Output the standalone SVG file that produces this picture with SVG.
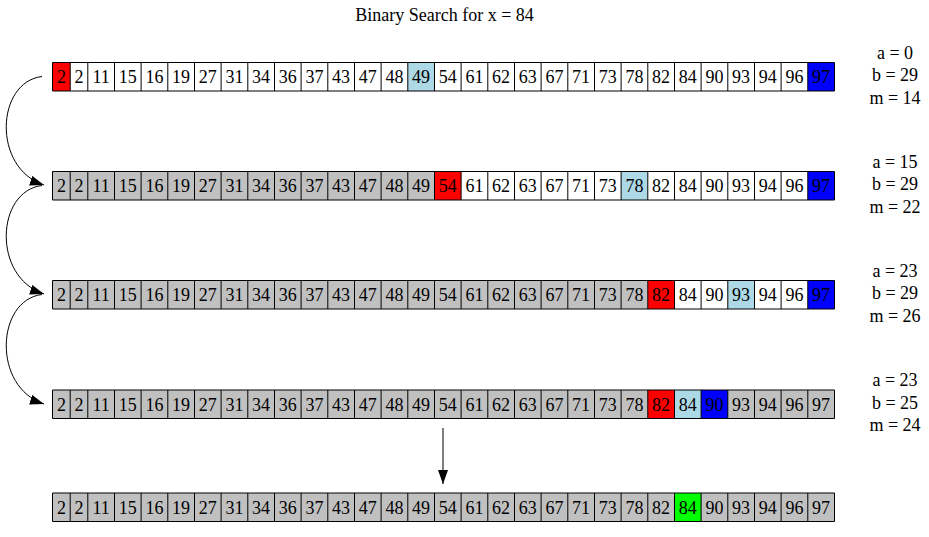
<svg xmlns="http://www.w3.org/2000/svg" xmlns:xlink="http://www.w3.org/1999/xlink" width="929" height="537" viewBox="0 0 929 537" font-family="'Liberation Serif', 'Times New Roman', 'DejaVu Serif', serif" font-size="18">
<style>
text{font-family:'Liberation Serif','Times New Roman','DejaVu Serif',serif;font-size:18px;fill:#000}
.num tspan{text-anchor:middle}
.lbl{text-anchor:middle}
.w{fill:#fff}
.g{fill:#c0c0c0}
.r{fill:#ff0000}
.lb{fill:#add8e6}
.b{fill:#0000ff}
.gr{fill:#00ff00}
.grid{fill:none;stroke:#000;stroke-width:1}
.edge{fill:none;stroke:#000;stroke-width:1;marker-end:url(#ah)}
</style>
<defs>
<marker id="ah" markerWidth="14" markerHeight="10" refX="14" refY="5" orient="auto" markerUnits="userSpaceOnUse"><path d="M0,0 L14,5 L0,10 z" fill="#000"/></marker>
<path id="grid" class="grid" d="M52.5,0h782v28.5h-782z M70.2,0v28.5 M87.8,0v28.5 M114.5,0v28.5 M141.1,0v28.5 M167.8,0v28.5 M194.5,0v28.5 M221.1,0v28.5 M247.8,0v28.5 M274.5,0v28.5 M301.1,0v28.5 M327.8,0v28.5 M354.5,0v28.5 M381.1,0v28.5 M407.8,0v28.5 M434.5,0v28.5 M461.1,0v28.5 M487.8,0v28.5 M514.5,0v28.5 M541.1,0v28.5 M567.8,0v28.5 M594.5,0v28.5 M621.1,0v28.5 M647.8,0v28.5 M674.5,0v28.5 M701.1,0v28.5 M727.8,0v28.5 M754.5,0v28.5 M781.1,0v28.5 M807.8,0v28.5"/>
</defs>
<rect width="929" height="537" fill="#fff"/>
<text id="title" class="lbl" x="444.5" y="21" font-family="'Liberation Serif', serif">Binary Search for x = 84</text>

<g id="edges">
<path class="edge" d="M42,76.5 C-4,82 -8,168 44,185"/>
<path class="edge" d="M42,185.5 C-4,191 -8,277 44,294"/>
<path class="edge" d="M42,294.5 C-4,300 -8,387 44,404"/>
<path class="edge" d="M443,428 L443,484"/>
</g>

<g id="row1" transform="translate(0,62.5)">
<rect class="w" x="52.5" y="0" width="782" height="28.5"/>
<rect class="r" x="52.5" y="0" width="17.7" height="28.5"/>
<rect class="lb" x="407.8" y="0" width="26.7" height="28.5"/>
<rect class="b" x="807.8" y="0" width="26.7" height="28.5"/>
<use xlink:href="#grid"/>
<text class="num" y="20.5"><tspan x="61.4">2</tspan><tspan x="79">2</tspan><tspan x="101.1">11</tspan><tspan x="127.8">15</tspan><tspan x="154.5">16</tspan><tspan x="181.1">19</tspan><tspan x="207.8">27</tspan><tspan x="234.5">31</tspan><tspan x="261.1">34</tspan><tspan x="287.8">36</tspan><tspan x="314.5">37</tspan><tspan x="341.1">43</tspan><tspan x="367.8">47</tspan><tspan x="394.5">48</tspan><tspan x="421.1">49</tspan><tspan x="447.8">54</tspan><tspan x="474.5">61</tspan><tspan x="501.1">62</tspan><tspan x="527.8">63</tspan><tspan x="554.5">67</tspan><tspan x="581.1">71</tspan><tspan x="607.8">73</tspan><tspan x="634.5">78</tspan><tspan x="661.1">82</tspan><tspan x="687.8">84</tspan><tspan x="714.5">90</tspan><tspan x="741.1">93</tspan><tspan x="767.8">94</tspan><tspan x="794.5">96</tspan><tspan x="821.1">97</tspan></text>
</g>
<g id="label1"><text class="lbl" x="895" y="58.5">a = 0</text><text class="lbl" x="895" y="81">b = 29</text><text class="lbl" x="895" y="103.5">m = 14</text></g>

<g id="row2" transform="translate(0,171.5)">
<rect class="w" x="52.5" y="0" width="782" height="28.5"/>
<rect class="g" x="52.5" y="0" width="382" height="28.5"/>
<rect class="r" x="434.5" y="0" width="26.6" height="28.5"/>
<rect class="lb" x="621.1" y="0" width="26.7" height="28.5"/>
<rect class="b" x="807.8" y="0" width="26.7" height="28.5"/>
<use xlink:href="#grid"/>
<text class="num" y="20.5"><tspan x="61.4">2</tspan><tspan x="79">2</tspan><tspan x="101.1">11</tspan><tspan x="127.8">15</tspan><tspan x="154.5">16</tspan><tspan x="181.1">19</tspan><tspan x="207.8">27</tspan><tspan x="234.5">31</tspan><tspan x="261.1">34</tspan><tspan x="287.8">36</tspan><tspan x="314.5">37</tspan><tspan x="341.1">43</tspan><tspan x="367.8">47</tspan><tspan x="394.5">48</tspan><tspan x="421.1">49</tspan><tspan x="447.8">54</tspan><tspan x="474.5">61</tspan><tspan x="501.1">62</tspan><tspan x="527.8">63</tspan><tspan x="554.5">67</tspan><tspan x="581.1">71</tspan><tspan x="607.8">73</tspan><tspan x="634.5">78</tspan><tspan x="661.1">82</tspan><tspan x="687.8">84</tspan><tspan x="714.5">90</tspan><tspan x="741.1">93</tspan><tspan x="767.8">94</tspan><tspan x="794.5">96</tspan><tspan x="821.1">97</tspan></text>
</g>
<g id="label2"><text class="lbl" x="895" y="167.5">a = 15</text><text class="lbl" x="895" y="190">b = 29</text><text class="lbl" x="895" y="212.5">m = 22</text></g>

<g id="row3" transform="translate(0,280.5)">
<rect class="w" x="52.5" y="0" width="782" height="28.5"/>
<rect class="g" x="52.5" y="0" width="595.3" height="28.5"/>
<rect class="r" x="647.8" y="0" width="26.7" height="28.5"/>
<rect class="lb" x="727.8" y="0" width="26.7" height="28.5"/>
<rect class="b" x="807.8" y="0" width="26.7" height="28.5"/>
<use xlink:href="#grid"/>
<text class="num" y="20.5"><tspan x="61.4">2</tspan><tspan x="79">2</tspan><tspan x="101.1">11</tspan><tspan x="127.8">15</tspan><tspan x="154.5">16</tspan><tspan x="181.1">19</tspan><tspan x="207.8">27</tspan><tspan x="234.5">31</tspan><tspan x="261.1">34</tspan><tspan x="287.8">36</tspan><tspan x="314.5">37</tspan><tspan x="341.1">43</tspan><tspan x="367.8">47</tspan><tspan x="394.5">48</tspan><tspan x="421.1">49</tspan><tspan x="447.8">54</tspan><tspan x="474.5">61</tspan><tspan x="501.1">62</tspan><tspan x="527.8">63</tspan><tspan x="554.5">67</tspan><tspan x="581.1">71</tspan><tspan x="607.8">73</tspan><tspan x="634.5">78</tspan><tspan x="661.1">82</tspan><tspan x="687.8">84</tspan><tspan x="714.5">90</tspan><tspan x="741.1">93</tspan><tspan x="767.8">94</tspan><tspan x="794.5">96</tspan><tspan x="821.1">97</tspan></text>
</g>
<g id="label3"><text class="lbl" x="895" y="276.5">a = 23</text><text class="lbl" x="895" y="299">b = 29</text><text class="lbl" x="895" y="321.5">m = 26</text></g>

<g id="row4" transform="translate(0,390)">
<rect class="g" x="52.5" y="0" width="782" height="28.5"/>
<rect class="r" x="647.8" y="0" width="26.7" height="28.5"/>
<rect class="lb" x="674.5" y="0" width="26.6" height="28.5"/>
<rect class="b" x="701.1" y="0" width="26.7" height="28.5"/>
<use xlink:href="#grid"/>
<text class="num" y="20.5"><tspan x="61.4">2</tspan><tspan x="79">2</tspan><tspan x="101.1">11</tspan><tspan x="127.8">15</tspan><tspan x="154.5">16</tspan><tspan x="181.1">19</tspan><tspan x="207.8">27</tspan><tspan x="234.5">31</tspan><tspan x="261.1">34</tspan><tspan x="287.8">36</tspan><tspan x="314.5">37</tspan><tspan x="341.1">43</tspan><tspan x="367.8">47</tspan><tspan x="394.5">48</tspan><tspan x="421.1">49</tspan><tspan x="447.8">54</tspan><tspan x="474.5">61</tspan><tspan x="501.1">62</tspan><tspan x="527.8">63</tspan><tspan x="554.5">67</tspan><tspan x="581.1">71</tspan><tspan x="607.8">73</tspan><tspan x="634.5">78</tspan><tspan x="661.1">82</tspan><tspan x="687.8">84</tspan><tspan x="714.5">90</tspan><tspan x="741.1">93</tspan><tspan x="767.8">94</tspan><tspan x="794.5">96</tspan><tspan x="821.1">97</tspan></text>
</g>
<g id="label4"><text class="lbl" x="895" y="386">a = 23</text><text class="lbl" x="895" y="408.5">b = 25</text><text class="lbl" x="895" y="431">m = 24</text></g>

<g id="row5" transform="translate(0,493)">
<rect class="g" x="52.5" y="0" width="782" height="28.5"/>
<rect class="gr" x="674.5" y="0" width="26.6" height="28.5"/>
<use xlink:href="#grid"/>
<text class="num" y="20.5"><tspan x="61.4">2</tspan><tspan x="79">2</tspan><tspan x="101.1">11</tspan><tspan x="127.8">15</tspan><tspan x="154.5">16</tspan><tspan x="181.1">19</tspan><tspan x="207.8">27</tspan><tspan x="234.5">31</tspan><tspan x="261.1">34</tspan><tspan x="287.8">36</tspan><tspan x="314.5">37</tspan><tspan x="341.1">43</tspan><tspan x="367.8">47</tspan><tspan x="394.5">48</tspan><tspan x="421.1">49</tspan><tspan x="447.8">54</tspan><tspan x="474.5">61</tspan><tspan x="501.1">62</tspan><tspan x="527.8">63</tspan><tspan x="554.5">67</tspan><tspan x="581.1">71</tspan><tspan x="607.8">73</tspan><tspan x="634.5">78</tspan><tspan x="661.1">82</tspan><tspan x="687.8">84</tspan><tspan x="714.5">90</tspan><tspan x="741.1">93</tspan><tspan x="767.8">94</tspan><tspan x="794.5">96</tspan><tspan x="821.1">97</tspan></text>
</g>
</svg>
